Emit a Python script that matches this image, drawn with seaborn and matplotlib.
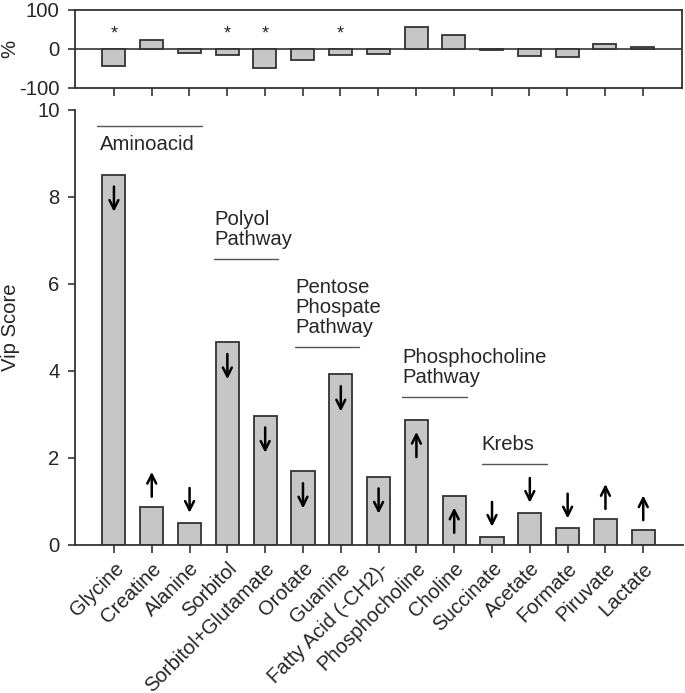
import matplotlib
matplotlib.use("Agg")
import matplotlib.pyplot as plt
import seaborn as sns
import pandas as pd
import numpy as np

categories = ["Glycine", "Creatine", "Alanine", "Sorbitol", "Sorbitol+Glutamate",
              "Orotate", "Guanine", "Fatty Acid (-CH2)-", "Phosphocholine", "Choline",
              "Succinate", "Acetate", "Formate", "Piruvate", "Lactate"]
vip_scores = [8.51, 0.88, 0.51, 4.66, 2.97, 1.69, 3.92, 1.57, 2.87, 1.13,
              0.19, 0.74, 0.38, 0.60, 0.34]
percent_change = [-44, 22, -9.5, -16, -50, -28, -15.5, -14, 57, 35,
                  -4, -19, -21.5, 13, 6]
arrow_dirs = ["down", "up", "down", "down", "down", "down", "down", "down",
              "up", "up", "down", "down", "down", "up", "up"]
significant = [True, False, False, True, True, False, True, False, False, False,
               False, False, False, False, False]
groups = [
    ("Aminoacid", -0.45, 2.33),
    ("Polyol\nPathway", 2.65, 4.34),
    ("Pentose\nPhospate\nPathway", 4.79, 6.48),
    ("Phosphocholine\nPathway", 7.62, 9.33),
    ("Krebs", 9.73, 11.45),
]
group_line_y = [9.63, 6.57, 4.56, 3.40, 1.855]

sns.set_theme(style="ticks")
plt.rcParams["font.family"] = ["Liberation Sans", "DejaVu Sans"]
plt.rcParams["axes.unicode_minus"] = False

df = pd.DataFrame({"cat": categories, "vip": vip_scores, "pct": percent_change})

fig = plt.figure(figsize=(6.85, 6.93), dpi=100)
ax_top = fig.add_axes([0.1095, 0.8734, 0.996 - 0.1095, 0.9856 - 0.8734])
ax = fig.add_axes([0.1095, 0.2136, 0.997 - 0.1095, 0.8413 - 0.2136])

bar_face = "#c6c6c6"
edge = "#333333"
spine_c = "#333333"
fs = 14.6

# Main VIP panel
sns.barplot(data=df, x="cat", y="vip", ax=ax, color=bar_face, saturation=1,
            width=0.61, edgecolor=edge, linewidth=1.3)
xlim = (-1.03, 15.05)
ax.set_xlim(*xlim)
ax.set_ylim(0, 10)
ax.set_yticks([0, 2, 4, 6, 8, 10])
ax.set_ylabel("Vip Score", fontsize=fs)
ax.yaxis.set_label_coords(-0.09, 0.5)
ax.set_xlabel("")
ax.set_xticks(range(len(categories)))
ax.set_xticklabels(categories, rotation=45, ha="right", rotation_mode="anchor", fontsize=fs)
ax.tick_params(axis="y", labelsize=fs, length=5, width=1.2, color=spine_c, pad=6)
ax.tick_params(axis="x", length=6, width=1.2, color=spine_c, pad=4)
for s in ["top", "right"]:
    ax.spines[s].set_visible(False)
for s in ["left", "bottom"]:
    ax.spines[s].set_color(spine_c)
    ax.spines[s].set_linewidth(1.3)

# Arrows
for i, (v, d) in enumerate(zip(vip_scores, arrow_dirs)):
    if v > 1.0:
        y_hi, y_lo = v - 0.27, v - 0.85
    else:
        y_hi, y_lo = v + 0.80, v + 0.23
    if d == "down":
        tail, head = y_hi, y_lo
    else:
        tail, head = y_lo, y_hi
    ax.annotate("", xy=(i, head), xytext=(i, tail),
                arrowprops=dict(arrowstyle="->", lw=1.8, color="black",
                                mutation_scale=16, shrinkA=0, shrinkB=0))

# Group annotations
for (label, x0, x1), ly in zip(groups, group_line_y):
    ax.plot([x0, x1], [ly, ly], color="#555555", lw=1.0, clip_on=False)
    if label == "Aminoacid":
        ax.text(x0 + 0.08, ly - 0.2, label, fontsize=fs, va="top", ha="left")
    else:
        ax.text(x0, ly + 0.23, label, fontsize=fs, va="bottom", ha="left",
                linespacing=1.05)

# Top percent panel
sns.barplot(data=df, x="cat", y="pct", ax=ax_top, color=bar_face, saturation=1,
            width=0.61, edgecolor=edge, linewidth=1.3)
ax_top.set_xlim(*xlim)
ax_top.set_ylim(-100, 100)
ax_top.set_yticks([-100, 0, 100])
ax_top.axhline(0, color=spine_c, lw=1.2, zorder=0)
ax_top.set_xticks(range(len(categories)))
ax_top.set_xticklabels([])
ax_top.set_xlabel("")
ax_top.set_ylabel("%", fontsize=fs)
ax_top.yaxis.set_label_coords(-0.092, 0.5)
ax_top.tick_params(axis="y", labelsize=fs, length=5, width=1.2, color=spine_c, pad=6)
ax_top.tick_params(axis="x", length=6, width=1.2, color=spine_c)
for s in ax_top.spines.values():
    s.set_color(spine_c)
    s.set_linewidth(1.3)
for i, sig in enumerate(significant):
    if sig:
        ax_top.text(i, 39, "*", ha="center", va="center", fontsize=13)

fig.savefig("out.png", dpi=100)
